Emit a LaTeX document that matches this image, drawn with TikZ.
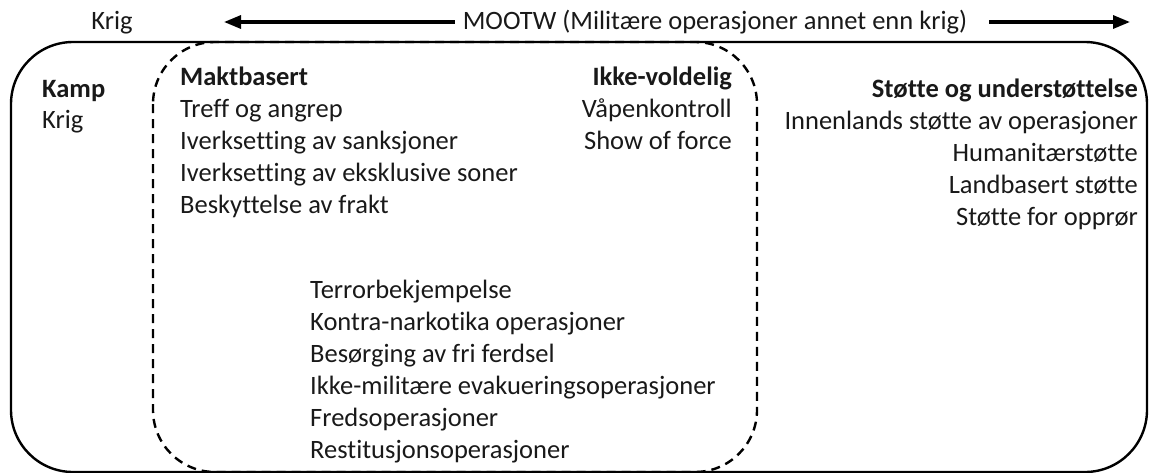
\documentclass[tikz,border=0pt]{standalone}
\usepackage{fontspec}
\setmainfont{Carlito}[Ligatures={NoCommon}]
\usetikzlibrary{arrows.meta}
\tikzset{
  txt/.style={inner sep=0pt, font=\fontsize{26.5}{31}\selectfont, text=black!90},
  lft/.style={txt, anchor=base west},
  rgt/.style={txt, anchor=base east},
  ctr/.style={txt, anchor=base},
  hdr/.style={font=\fontsize{26.5}{31}\selectfont\bfseries},
  frame/.style={line width=2.4pt, rounded corners=62pt},
  dashframe/.style={line width=2.4pt, dash pattern=on 9pt off 6pt, rounded corners=62pt},
  bigarrow/.style={line width=3.2pt, -{Triangle[length=17pt,width=13pt]}}
}
\begin{document}
\begin{tikzpicture}[x=1pt,y=-1pt]
\useasboundingbox (0,0) rectangle (1149,472);
% frames
\draw[frame] (11,42) rectangle (1147,472);
\draw[dashframe] (153,42) rectangle (757,472);
% top labels and arrows
\node[ctr] (krigtop) at (112,29) {Krig};
\node[ctr] (mootw) at (715,29) {MOOTW (Militære operasjoner annet enn krig)};
\coordinate (ltip) at (224,22);
\coordinate (rtip) at (1130,22);
\draw[bigarrow] ([xshift=-8pt]mootw.west |- ltip) -- (ltip);
\draw[bigarrow] ([xshift=22pt]mootw.east |- rtip) -- (rtip);
% Kamp
\node[lft, hdr] (kamp) at (42,97) {Kamp};
\node[lft] (krig) at (42,128) {Krig};
% Maktbasert
\node[lft, hdr] (makt) at (180,85) {Maktbasert};
\node[lft] (m1) at (180,117) {Treff og angrep};
\node[lft] (m2) at (180,149) {Iverksetting av sanksjoner};
\node[lft] (m3) at (180,181) {Iverksetting av eksklusive soner};
\node[lft] (m4) at (180,213) {Beskyttelse av frakt};
% Ikke-voldelig
\node[rgt, hdr] (ikke) at (732,85) {Ikke-voldelig};
\node[rgt] (i1) at (732,117) {Våpenkontroll};
\node[rgt] (i2) at (732,149) {Show of force};
% Støtte
\node[rgt, hdr] (stotte) at (1138,97) {Støtte og understøttelse};
\node[rgt] (s1) at (1138,129) {Innenlands støtte av operasjoner};
\node[rgt] (s2) at (1138,161) {Humanitærstøtte};
\node[rgt] (s3) at (1138,193) {Landbasert støtte};
\node[rgt] (s4) at (1138,225) {Støtte for opprør};
% lower group
\node[lft] (l1) at (310,298) {Terrorbekjempelse};
\node[lft] (l2) at (310,330) {Kontra-narkotika operasjoner};
\node[lft] (l3) at (310,362) {Besørging av fri ferdsel};
\node[lft] (l4) at (310,394) {Ikke-militære evakueringsoperasjoner};
\node[lft] (l5) at (310,426) {Fredsoperasjoner};
\node[lft] (l6) at (310,458) {Restitusjonsoperasjoner};
\end{tikzpicture}
\end{document}
